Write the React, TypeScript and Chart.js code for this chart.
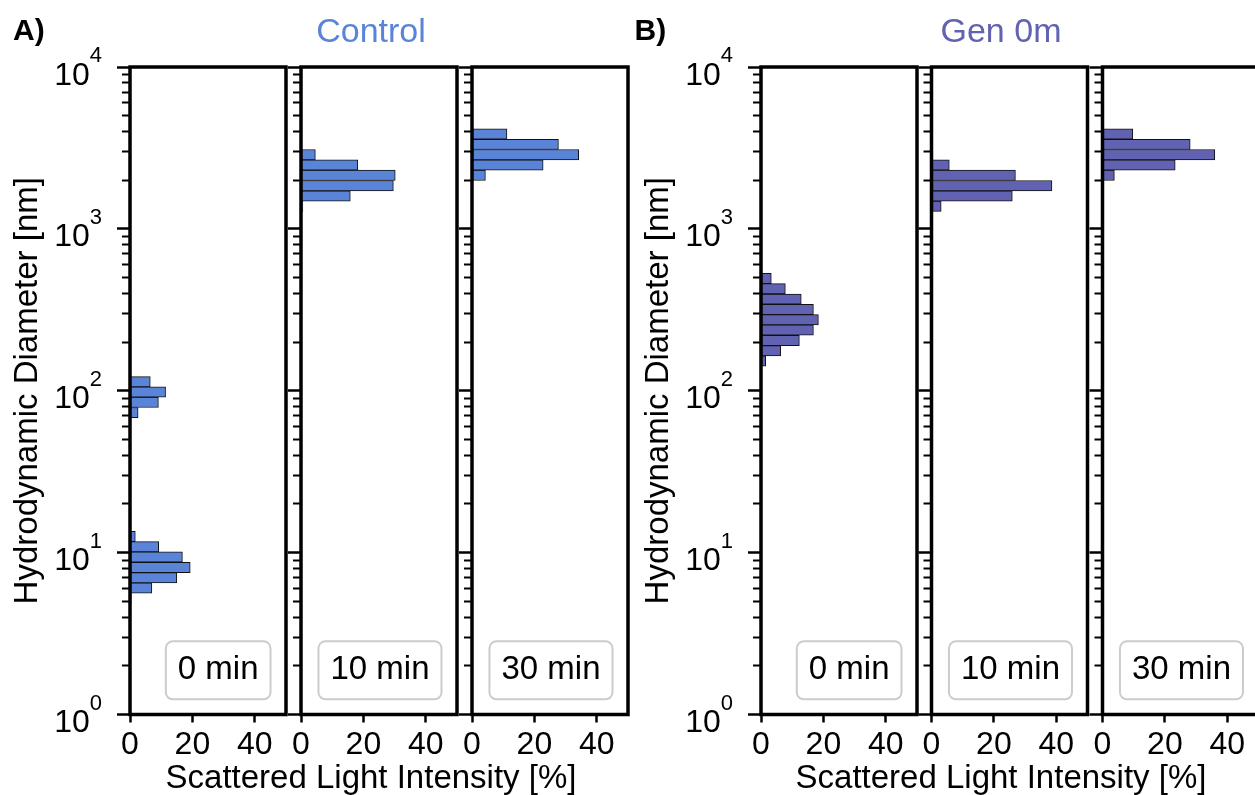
import React, { useEffect, useRef } from "react";
import { Chart, registerables } from "chart.js";

Chart.register(...registerables);

const FONT = "'Liberation Sans', Arial, Helvetica, sans-serif";
Chart.defaults.font.family = FONT;

// Malvern size classes (nm) used as histogram bin edges
const sizeClasses = [
  0.4, 0.4632, 0.5365, 0.6213, 0.7195, 0.8332, 0.9649, 1.117, 1.294, 1.499,
  1.736, 2.01, 2.328, 2.696, 3.122, 3.615, 4.187, 4.849, 5.615, 6.503,
  7.531, 8.721, 10.1, 11.7, 13.54, 15.69, 18.17, 21.04, 24.36, 28.21,
  32.67, 37.84, 43.82, 50.75, 58.77, 68.06, 78.82, 91.28, 105.7, 122.4,
  141.8, 164.2, 190.1, 220.2, 255.0, 295.3, 342.0, 396.1, 458.7, 531.2,
  615.1, 712.4, 825.0, 955.4, 1106, 1281, 1484, 1718, 1990, 2305,
  2669, 3091, 3580, 4145, 4801, 5560, 6439, 7456, 8635, 10000,
];

// Lower bin edge (nm) and scattered light intensity (%) per panel
const control0Bins = [4.849, 5.615, 6.503, 7.531, 8.721, 10.1, 11.7, 68.06, 78.82, 91.28, 105.7];
const control0Values = [0.4, 7.0, 15.0, 19.3, 16.8, 9.2, 1.7, 2.6, 9.1, 11.4, 6.5];
const control10Bins = [1281, 1484, 1718, 1990, 2305, 2669];
const control10Values = [0.6, 15.8, 29.6, 30.2, 18.2, 4.6];
const control30Bins = [1990, 2305, 2669, 3091, 3580];
const control30Values = [4.3, 22.8, 34.2, 27.7, 11.2];

const gen0Bins = [141.8, 164.2, 190.1, 220.2, 255.0, 295.3, 342.0, 396.1, 458.7, 531.2];
const gen0Values = [1.5, 6.3, 12.3, 16.8, 18.4, 16.8, 12.9, 7.8, 3.3, 0.3];
const gen10Bins = [1281, 1484, 1718, 1990, 2305];
const gen10Values = [3.1, 25.9, 38.6, 26.9, 5.7];
const gen30Bins = [1990, 2305, 2669, 3091, 3580];
const gen30Values = [3.8, 23.3, 36.0, 28.1, 9.7];

const timeLabels = ["0 min", "10 min", "30 min"];
const groupTitles = ["Control", "Gen 0m"];
const panelLetters = ["A)", "B)"];
const xTickValues = [0, 20, 40];
const yTickExponents = [0, 1, 2, 3, 4];
const xAxisTitle = "Scattered Light Intensity [%]";
const yAxisTitle = "Hydrodynamic Diameter [nm]";

const controlColor = "#5a84d8";
const genColor = "#6262b2";

const AREA_TOP = 67;
const AREA_BOTTOM = 714.5;
const AREA_W = 156;
const CANVAS_H = 795;

type PanelCfg = {
  left: number;
  first: boolean;
  bins: number[];
  values: number[];
  color: string;
  label: string;
};

const panels: PanelCfg[] = [
  { left: 130, first: true, bins: control0Bins, values: control0Values, color: controlColor, label: timeLabels[0] },
  { left: 301, first: false, bins: control10Bins, values: control10Values, color: controlColor, label: timeLabels[1] },
  { left: 472, first: false, bins: control30Bins, values: control30Values, color: controlColor, label: timeLabels[2] },
  { left: 761, first: true, bins: gen0Bins, values: gen0Values, color: genColor, label: timeLabels[0] },
  { left: 931.5, first: false, bins: gen10Bins, values: gen10Values, color: genColor, label: timeLabels[1] },
  { left: 1102.5, first: false, bins: gen30Bins, values: gen30Values, color: genColor, label: timeLabels[2] },
];

const framePlugin = {
  id: "frame",
  afterDatasetsDraw(chart: any) {
    const { ctx, chartArea: a } = chart;
    ctx.save();
    ctx.strokeStyle = "#000";
    ctx.lineWidth = 3.5;
    ctx.strokeRect(a.left, a.top, a.right - a.left, a.bottom - a.top);
    ctx.restore();
  },
};

const yLabelPlugin = {
  id: "yPowLabels",
  afterDraw(chart: any) {
    const ctx = chart.ctx;
    const ys = chart.scales.y;
    const right = chart.chartArea.left - 28;
    ctx.save();
    ctx.fillStyle = "#000";
    ctx.textBaseline = "alphabetic";
    for (const e of yTickExponents) {
      const py = ys.getPixelForValue(Math.pow(10, e));
      ctx.font = `22px ${FONT}`;
      const sw = ctx.measureText(String(e)).width;
      ctx.textAlign = "left";
      ctx.fillText(String(e), right - sw, py - 5);
      ctx.font = `32px ${FONT}`;
      ctx.textAlign = "right";
      ctx.fillText("10", right - sw, py + 17.5);
    }
    ctx.restore();
  },
};

function makeBoxPlugin(label: string) {
  return {
    id: "timeBox",
    afterDraw(chart: any) {
      const { ctx, chartArea: a } = chart;
      ctx.save();
      ctx.font = `33px ${FONT}`;
      const tw = ctx.measureText(label).width;
      const w = tw + 24;
      const h = 58;
      const x = a.right - 15.5 - w;
      const y = a.bottom - 15.2 - h;
      ctx.beginPath();
      ctx.roundRect(x, y, w, h, 7);
      ctx.fillStyle = "rgba(255,255,255,0.85)";
      ctx.fill();
      ctx.lineWidth = 2;
      ctx.strokeStyle = "#cccccc";
      ctx.stroke();
      ctx.fillStyle = "#000";
      ctx.textAlign = "left";
      ctx.textBaseline = "alphabetic";
      ctx.fillText(label, x + 12, y + h - 20);
      ctx.restore();
    },
  };
}

function Panel({ cfg }: { cfg: PanelCfg }) {
  const ref = useRef<HTMLCanvasElement>(null);
  const W = cfg.first ? 130 : 15;
  const rawLeft = cfg.left - W;
  const canvasLeft = Math.floor(rawLeft);
  const padLeft = rawLeft - canvasLeft;
  const canvasW = Math.ceil(padLeft + W + AREA_W + 4);

  useEffect(() => {
    const data = cfg.bins.map((lo, i) => {
      const k = sizeClasses.indexOf(lo);
      const hi = sizeClasses[k + 1];
      return { x: cfg.values[i], y: Math.sqrt(lo * hi) };
    });
    const plugins: any[] = [framePlugin, makeBoxPlugin(cfg.label)];
    if (cfg.first) plugins.push(yLabelPlugin);
    const chart = new Chart(ref.current as HTMLCanvasElement, {
      type: "bar",
      data: {
        datasets: [
          {
            data: data as any,
            backgroundColor: cfg.color,
            borderColor: "#111111",
            borderWidth: 1,
            borderSkipped: false,
            categoryPercentage: 1,
            barPercentage: 1,
            xAxisID: "x",
            yAxisID: "y",
          } as any,
        ],
      },
      options: {
        indexAxis: "y",
        animation: false,
        responsive: false,
        maintainAspectRatio: false,
        devicePixelRatio: 1,
        events: [],
        layout: {
          padding: {
            top: AREA_TOP,
            left: padLeft,
            right: canvasW - (padLeft + W + AREA_W),
            bottom: 0,
          },
        },
        plugins: {
          legend: { display: false },
          tooltip: { enabled: false },
          title: { display: false },
        },
        scales: {
          x: {
            type: "linear",
            position: "bottom",
            min: 0,
            max: 50,
            offset: false,
            afterBuildTicks: (axis: any) => {
              axis.ticks = xTickValues.map((v) => ({ value: v }));
            },
            ticks: {
              color: "#000",
              font: { size: 32, family: FONT },
              padding: 3,
              maxRotation: 0,
              autoSkip: false,
            },
            grid: {
              offset: false,
              drawOnChartArea: false,
              drawTicks: true,
              tickLength: 8,
              tickWidth: 2.5,
              tickColor: "#000",
            },
            border: { display: false },
            afterFit: (axis: any) => {
              axis.height = CANVAS_H - AREA_BOTTOM;
            },
          },
          y: {
            type: "logarithmic",
            position: "left",
            weight: 1,
            min: 1,
            max: 10000,
            offset: false,
            afterBuildTicks: (axis: any) => {
              axis.ticks = yTickExponents.map((e) => ({ value: Math.pow(10, e), major: true }));
            },
            ticks: { display: false },
            grid: {
              offset: false,
              drawOnChartArea: false,
              drawTicks: true,
              tickLength: 13,
              tickWidth: 2.5,
              tickColor: "#000",
            },
            border: { display: false },
            title: {
              display: cfg.first,
              text: yAxisTitle,
              color: "#000",
              font: { size: 33, family: FONT },
              padding: { top: 8, bottom: 0 },
            },
            afterFit: (axis: any) => {
              axis.width = W;
            },
          },
          yMinor: {
            type: "logarithmic",
            position: "left",
            weight: 0,
            min: 1,
            max: 10000,
            offset: false,
            afterBuildTicks: (axis: any) => {
              const t: any[] = [];
              for (let e = 0; e < 4; e++) {
                for (let m = 2; m <= 9; m++) t.push({ value: m * Math.pow(10, e) });
              }
              axis.ticks = t;
            },
            ticks: { display: false, autoSkip: false },
            grid: {
              offset: false,
              drawOnChartArea: false,
              drawTicks: true,
              tickLength: 8,
              tickWidth: 2,
              tickColor: "#000",
            },
            border: { display: false },
            afterFit: (axis: any) => {
              axis.width = 0;
            },
          },
        } as any,
      },
      plugins,
    });
    return () => chart.destroy();
  }, []);

  return (
    <canvas
      ref={ref}
      width={canvasW}
      height={CANVAS_H}
      style={{ position: "absolute", left: canvasLeft, top: 0, width: canvasW, height: CANVAS_H }}
    />
  );
}

const textBase: React.CSSProperties = {
  position: "absolute",
  fontFamily: FONT,
  whiteSpace: "nowrap",
  color: "#000",
};

export default function App() {
  const groupCenters = [371, 1001];
  const groupColors = [controlColor, genColor];
  const letterLefts = [13, 634.5];
  return (
    <div
      style={{
        position: "fixed",
        left: 0,
        top: 0,
        width: 1255,
        height: 795,
        overflow: "hidden",
        background: "#fff",
      }}
    >
      {panels.map((p, i) => (
        <Panel key={i} cfg={p} />
      ))}
      {panelLetters.map((t, i) => (
        <div
          key={"l" + i}
          style={{ ...textBase, left: letterLefts[i], top: 14.6, fontSize: 30, lineHeight: "30px", fontWeight: "bold" }}
        >
          {t}
        </div>
      ))}
      {groupTitles.map((t, i) => (
        <div
          key={"t" + i}
          style={{
            ...textBase,
            left: groupCenters[i] - 200,
            width: 400,
            textAlign: "center",
            top: 12.7,
            fontSize: 34,
            lineHeight: "34px",
            color: groupColors[i],
          }}
        >
          {t}
        </div>
      ))}
      {groupCenters.map((c, i) => (
        <div
          key={"x" + i}
          style={{ ...textBase, left: c - 300, width: 600, textAlign: "center", top: 760, fontSize: 33, lineHeight: "33px" }}
        >
          {xAxisTitle}
        </div>
      ))}
    </div>
  );
}
